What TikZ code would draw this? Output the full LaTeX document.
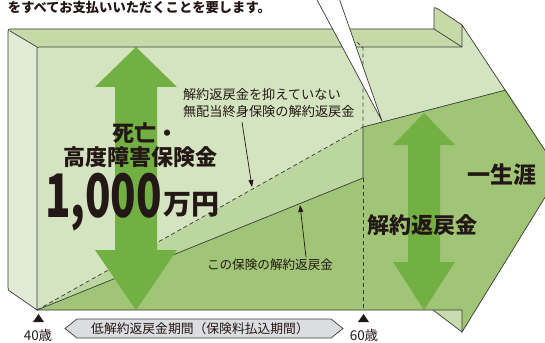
\documentclass[tikz,border=0pt]{standalone}
\usepackage{fontspec}
\usepackage{graphicx}
\setmainfont{Noto Sans CJK JP}
\usetikzlibrary{arrows.meta}
\definecolor{leftc}{HTML}{E1EBD5}
\definecolor{topc}{HTML}{C6DAA8}
\definecolor{frontc}{HTML}{D5E4C0}
\definecolor{bandc}{HTML}{BCD6A0}
\definecolor{midc}{HTML}{A0C576}
\definecolor{arrc}{HTML}{72B044}
\definecolor{edgec}{HTML}{3A3A3A}
\definecolor{txtc}{HTML}{231815}
\definecolor{banc}{HTML}{DCDDE1}
\definecolor{botc}{HTML}{C9DCAE}
\begin{document}
\begin{tikzpicture}[x=1pt,y=-1pt,
  edge/.style={draw=edgec,line width=0.7pt},
  dashline/.style={draw=edgec,line width=0.7pt,dash pattern=on 4pt off 3pt},
  lbl/.style={inner sep=0pt,outer sep=0pt,text=txtc},
  bigtxt/.style={lbl,font=\bfseries\fontsize{22}{22}\selectfont},
  smalltxt/.style={lbl,font=\fontsize{13.2}{17}\selectfont},
  pointer/.style={draw=txtc,line width=0.7pt,-{Triangle[length=7pt,width=5pt]}},
  bigarrow/.style={fill=arrc}]
\useasboundingbox (0,0) rectangle (545,342);
\clip (0,0) rectangle (545,342);
% key points
\coordinate (A) at (37,310);
\coordinate (B) at (363,178);
\coordinate (C) at (363,127);
\coordinate (D) at (506,90);
\coordinate (T) at (560,173);
% top face and left face
\fill[topc] (8,34) .. controls (8,29) .. (13,29) -- (434,29) -- (462,47) -- (37,47) -- cycle;
\fill[leftc] (37,310) -- (11,292) .. controls (8,290) .. (8,287) -- (8,34) -- (10,31) -- (37,47) -- cycle;
% barb depth faces
\fill[topc] (434,29) -- (434,11) .. controls (434,7) .. (438,9) -- (462,25) -- (462,47) -- cycle;
\fill[botc] (433,310) -- (462,310) -- (462,332) -- cycle;
\draw[edge] (433,310) -- (462,332);
% front face
\fill[frontc] (37,310) -- (37,51) .. controls (37,47) .. (41,47) -- (462,47) -- (462,25) -- (T) -- (462,332) -- (462,310) -- cycle;
\fill[midc] (A) -- (B) -- (C) -- (D) -- (T) -- (462,332) -- (462,310) -- cycle;
\fill[bandc] (A) -- (C) -- (B) -- cycle;
% value lines
\draw[dashline] (A) -- (C);
\draw[dashline] (357,42) -- (363,48) -- (C);
\draw[dashline] (B) -- (363,310);
\draw[edge] (A) -- (B) -- (C) -- (D);
% big arrows
\fill[bigarrow] (115,87) -- (95,87) -- (136,47) -- (177,87) -- (157,87) -- (157,250) -- (177,250) -- (136,310) -- (95,250) -- (115,250) -- cycle;
\fill[bigarrow] (408,145) -- (393,145) -- (424,113) -- (455,145) -- (440,145) -- (440,262) -- (455,262) -- (424,310) -- (393,262) -- (408,262) -- cycle;
% outlines
\draw[edge] (37,310) -- (37,51) .. controls (37,47) .. (41,47) -- (462,47) -- (462,25) -- (T) -- (462,332) -- (462,310) -- cycle;
\draw[edge] (37,310) -- (11,292) .. controls (8,290) .. (8,287) -- (8,34) .. controls (8,29) .. (13,29) -- (434,29) -- (434,11) .. controls (434,7) .. (438,9) -- (462,25);
\draw[edge] (10,31) -- (37,47);
\draw[edge] (434,29) -- (462,47);
% callout
\fill[white] (316,-2) -- (382,121) -- (339,-2) -- cycle;
\draw[edge] (316,-2) -- (382,121) -- (339,-2);
% texts
\node[lbl,anchor=west,font=\bfseries\fontsize{13.3}{13.3}\selectfont] (toptxt) at (8,7) {をすべてお支払いいただくことを要します。};
\node[bigtxt] (sb1) at (145,133) {死亡・};
\node[bigtxt] (sb2) at (140,157) {高度障害保険金};
\node[lbl,anchor=base west,text height=42pt,text depth=0pt,font=\bfseries\fontsize{60}{60}\selectfont] (amt) at (45,217) {\scalebox{0.7}[1]{1,000}};
\node[lbl,anchor=base west,font=\bfseries\fontsize{28}{28}\selectfont] (man) at ([xshift=1pt,yshift=3pt]amt.base east) {万円};
\node[smalltxt,anchor=west,align=left] (lab1) at (183,103.5) {解約返戻金を抑えていない\\無配当終身保険の解約返戻金};
\node[lbl,font=\fontsize{12.6}{12.6}\selectfont] (lab2) at (270,265) {この保険の解約返戻金};
\node[lbl,font=\bfseries\fontsize{23}{23}\selectfont] (life) at (502,175) {一生涯};
\node[bigtxt] (surr) at (422,225) {解約返戻金};
% pointers
\coordinate (p1s) at (242,122);
\coordinate (p1e) at (252,187);
\draw[pointer] (p1s) -- (p1e);
\coordinate (p2s) at (306,257);
\coordinate (p2e) at (300,205);
\draw[pointer] (p2s) -- (p2e);
% banner
\draw[edgec,line width=0.7pt,fill=banc] (65,328.5) -- (77,319) -- (331,319) -- (343,328.5) -- (331,338) -- (77,338) -- cycle;
\node[lbl,font=\fontsize{12.8}{12.8}\selectfont] (ban) at (200,328.5) {低解約返戻金期間（保険料払込期間）};
% age markers
\fill[txtc] (33,322) -- (38.5,314) -- (44,322) -- cycle;
\fill[txtc] (358,322) -- (363.5,314) -- (369,322) -- cycle;
\node[lbl,font=\fontsize{13.5}{13.5}\selectfont] (a40) at (38,335) {40歳};
\node[lbl,font=\fontsize{13.5}{13.5}\selectfont] (a60) at (364,335) {60歳};
\end{tikzpicture}
\end{document}
